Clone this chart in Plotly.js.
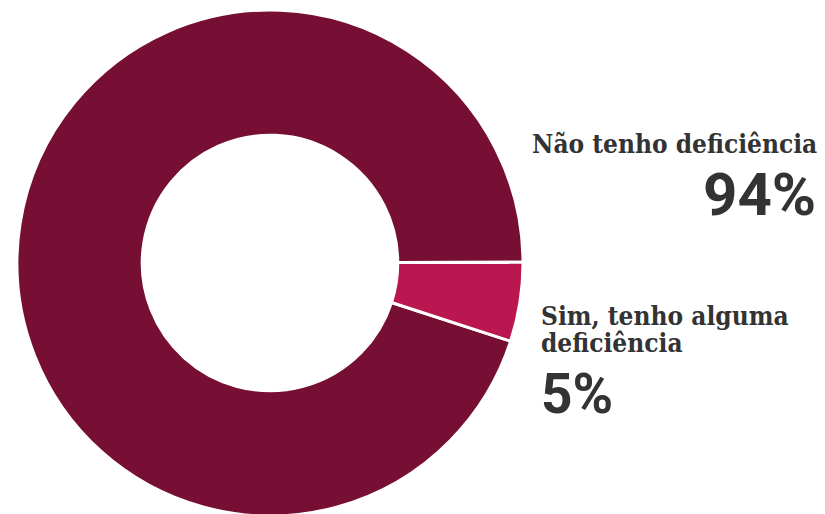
<!DOCTYPE html>
<html>
<head>
<meta charset="utf-8">
<script src="https://cdn.plot.ly/plotly-3.0.1.min.js"></script>
<style>html,body{margin:0;padding:0;overflow:hidden;background:#fff}</style>
</head>
<body>
<div id="chart" style="width:825px;height:516px"></div>
<script>
const categories = ["Não tenho deficiência", "Sim, tenho alguma deficiência"];
const labelLines0 = ["Não tenho deficiência"];
const labelLines1 = ["Sim, tenho alguma", "deficiência"];
const values = [94, 5];
const valueLabels = ["94%", "5%"];
const colors = ["#760F33", "#BA1750"];

const W = 825, H = 516, TOP = 10, PH = 506;
const slab = "'Roboto Slab', 'DejaVu Serif Condensed', 'DejaVu Serif', serif";
const num = "Roboto, 'Liberation Sans', sans-serif";
const py = p => (H - TOP - p) / PH;  // pixel from top -> paper y

const trace = {
  type: "pie",
  labels: categories,
  values: values,
  sort: false,
  direction: "clockwise",
  rotation: 108,
  hole: 0.505,
  textinfo: "none",
  hoverinfo: "label+percent",
  marker: {colors: colors, line: {color: "#ffffff", width: 3}},
  domain: {x: [17 / W, 523 / W], y: [0, 1]},
  showlegend: false
};

function ann(x, yb, text, xanchor, family, size) {
  return {xref: "paper", yref: "paper", x: x / W, y: py(yb), xanchor: xanchor, yanchor: "bottom",
          text: "<b>" + text + "</b>", showarrow: false, align: xanchor,
          font: {family: family, size: size, color: "#333333"}};
}

const layout = {
  width: W, height: H,
  margin: {l: 0, r: 0, t: TOP, b: 0},
  paper_bgcolor: "#ffffff",
  showlegend: false,
  annotations: [
    ann(819, 151, labelLines0[0], "right", slab, 26),
    ann(818, 222, valueLabels[0], "right", num, 60),
    ann(539, 323, labelLines1[0], "left", slab, 26),
    ann(539, 350, labelLines1[1], "left", slab, 26),
    ann(539, 418, valueLabels[1], "left", num, 55)
  ]
};

Plotly.newPlot("chart", [trace], layout, {displayModeBar: false, staticPlot: true});
</script>
</body>
</html>
